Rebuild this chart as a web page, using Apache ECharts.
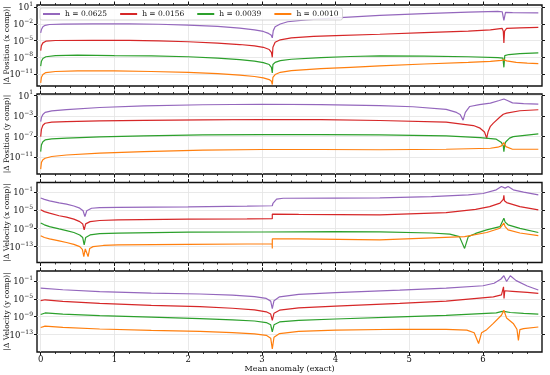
<!DOCTYPE html>
<html><head><meta charset="utf-8">
<script src="https://cdn.jsdelivr.net/npm/echarts@6/dist/echarts.min.js"></script>
<style>html,body{margin:0;padding:0;background:#fff}#c{width:550px;height:375px}</style>
</head><body><div id="c"></div>
<script>
// ---------- data (x = mean anomaly, y = log10 |error|) ----------
const seriesNames = ['h = 0.0625', 'h = 0.0156', 'h = 0.0039', 'h = 0.0010'];
const panelTitles = ['|\u0394 Position (x comp)|', '|\u0394 Position (y comp)|', '|\u0394 Velocity (x comp)|', '|\u0394 Velocity (y comp)|'];
const xTickValues = [0, 1, 2, 3, 4, 5, 6];
const yTickExponents = [[1, -2, -5, -8, -11], [1, -3, -7, -11], [-1, -5, -9, -13], [-1, -5, -9, -13]];
const yRangeExponents = [[-13.16, 1.41], [-14.25, 1.27], [-16.5, 1.12], [-16.9, 1.25]];

// Panel 1: |Δ Position (x comp)|
const posX_h0625 = [[0,-3.6],[0.01,-3.0],[0.03,-2.5],[0.06,-2.25],[0.12,-2.1],[0.3,-2.02],[0.7,-1.97],[1.2,-1.98],[1.6,-2.05],[2.0,-2.2],[2.4,-2.45],[2.7,-2.75],[2.9,-3.05],[3.02,-3.35],[3.09,-3.7],[3.125,-4.0],[3.1416,-4.5],[3.155,-3.2],[3.18,-2.5],[3.25,-2.0],[3.35,-1.6],[3.6,-1.25],[4.0,-0.9],[4.6,-0.45],[5.2,-0.15],[5.8,0.12],[6.2,0.25],[6.26,0.2],[6.283,-1.35],[6.305,0.1],[6.4,0.05],[6.75,0.0]];
const posX_h0156 = [[0,-6.8],[0.01,-5.9],[0.03,-5.4],[0.07,-5.1],[0.2,-4.98],[0.7,-4.95],[1.2,-4.97],[1.6,-5.05],[2.0,-5.2],[2.4,-5.45],[2.7,-5.7],[2.9,-5.95],[3.02,-6.2],[3.1,-6.6],[3.13,-7.1],[3.1416,-8.0],[3.15,-6.2],[3.18,-5.3],[3.25,-4.85],[3.4,-4.5],[3.7,-4.25],[4.0,-4.1],[4.6,-3.85],[5.2,-3.55],[5.8,-3.3],[6.1,-3.05],[6.26,-2.8],[6.275,-3.3],[6.283,-5.4],[6.292,-3.3],[6.32,-2.8],[6.5,-2.7],[6.75,-2.6]];
const posX_h0039 = [[0,-9.6],[0.01,-8.7],[0.03,-8.2],[0.07,-7.9],[0.2,-7.7],[0.5,-7.62],[1.0,-7.7],[1.5,-7.75],[2.0,-7.9],[2.4,-8.15],[2.7,-8.4],[2.9,-8.7],[3.02,-8.95],[3.1,-9.3],[3.13,-9.8],[3.1416,-10.8],[3.15,-9.3],[3.18,-8.9],[3.25,-8.6],[3.4,-8.35],[3.8,-8.05],[4.2,-7.85],[4.6,-7.75],[5.2,-7.8],[5.8,-7.9],[6.2,-8.05],[6.27,-8.15],[6.283,-9.8],[6.295,-7.7],[6.35,-7.5],[6.5,-7.35],[6.75,-7.2]];
const posX_h0010 = [[0,-12.6],[0.01,-11.6],[0.03,-11.1],[0.07,-10.75],[0.2,-10.55],[0.5,-10.45],[1.0,-10.45],[1.5,-10.55],[2.0,-10.7],[2.4,-10.95],[2.7,-11.2],[2.9,-11.45],[3.02,-11.7],[3.1,-12.0],[3.13,-12.3],[3.1416,-12.9],[3.15,-11.6],[3.18,-11.1],[3.25,-10.7],[3.4,-10.4],[3.8,-10.05],[4.2,-9.8],[4.6,-9.55],[5.2,-9.2],[5.8,-8.9],[6.1,-8.72],[6.25,-8.55],[6.283,-8.45],[6.32,-8.65],[6.45,-8.9],[6.6,-9.05],[6.75,-9.15]];

// Panel 2: |Δ Position (y comp)|
const posY_h0625 = [[0,-4.1],[0.01,-3.3],[0.03,-2.7],[0.06,-2.3],[0.15,-2.0],[0.35,-1.75],[0.8,-1.35],[1.4,-1.05],[2.2,-0.82],[3.0,-0.72],[3.8,-0.8],[4.6,-1.0],[5.05,-1.2],[5.5,-1.7],[5.64,-2.3],[5.69,-2.7],[5.73,-3.8],[5.76,-2.3],[5.82,-1.15],[5.95,-0.8],[6.1,-0.5],[6.22,0.0],[6.283,0.3],[6.33,0.0],[6.4,-0.45],[6.55,-0.6],[6.75,-0.68]];
const posY_h0156 = [[0,-7.0],[0.01,-5.6],[0.03,-4.8],[0.06,-4.4],[0.15,-4.2],[0.35,-4.07],[0.8,-3.95],[1.4,-3.85],[2.2,-3.74],[3.0,-3.68],[3.8,-3.72],[4.6,-3.87],[5.5,-4.19],[5.87,-4.85],[5.96,-5.36],[6.02,-6.1],[6.05,-7.3],[6.07,-6.0],[6.1,-5.0],[6.14,-4.38],[6.23,-3.2],[6.275,-2.65],[6.283,-2.9],[6.29,-2.55],[6.32,-2.43],[6.5,-1.98],[6.75,-1.79]];
const posY_h0039 = [[0,-9.9],[0.01,-8.6],[0.03,-8.0],[0.06,-7.64],[0.15,-7.45],[0.35,-7.3],[0.8,-7.05],[1.4,-6.85],[2.2,-6.66],[3.0,-6.6],[3.8,-6.6],[4.6,-6.66],[5.5,-6.86],[5.96,-7.18],[6.18,-7.5],[6.25,-8.16],[6.275,-8.8],[6.283,-9.9],[6.295,-8.5],[6.31,-8.0],[6.36,-7.3],[6.41,-7.0],[6.75,-6.47]];
const posY_h0010 = [[0,-13.3],[0.01,-12.0],[0.03,-11.5],[0.06,-11.2],[0.15,-10.85],[0.35,-10.56],[0.8,-10.2],[1.4,-9.9],[2.2,-9.6],[3.0,-9.5],[3.8,-9.5],[4.6,-9.55],[5.5,-9.45],[6.1,-9.25],[6.2,-9.05],[6.25,-8.8],[6.283,-8.16],[6.31,-8.94],[6.4,-9.45],[6.75,-9.45]];

// Panel 3: |Δ Velocity (x comp)|
const velX_h0625 = [[0,-2.3],[0.05,-2.6],[0.12,-2.92],[0.25,-3.35],[0.35,-3.65],[0.45,-4.05],[0.53,-4.53],[0.575,-5.1],[0.6,-6.4],[0.625,-5.1],[0.69,-4.55],[0.8,-4.4],[1.05,-4.35],[2.0,-4.25],[2.8,-4.1],[3.1416,-4.0],[3.15,-3.5],[3.165,-3.07],[3.2,-2.55],[3.29,-2.35],[4.0,-2.3],[4.6,-2.28],[5.3,-2.0],[5.8,-1.6],[6.0,-1.3],[6.18,-0.49],[6.25,0.24],[6.3,-0.12],[6.34,0.24],[6.41,-0.49],[6.55,-1.0],[6.75,-1.6]];
const velX_h0156 = [[0,-4.9],[0.05,-5.3],[0.12,-5.64],[0.25,-6.2],[0.35,-6.5],[0.45,-6.95],[0.53,-7.5],[0.57,-8.0],[0.59,-9.3],[0.61,-8.0],[0.67,-7.5],[0.8,-7.25],[1.05,-7.1],[2.0,-6.95],[2.8,-6.9],[3.1416,-6.85],[3.1417,-5.86],[3.5,-5.9],[4.6,-6.0],[5.5,-5.5],[5.9,-4.8],[6.09,-4.18],[6.23,-3.43],[6.275,-2.6],[6.283,-1.7],[6.29,-2.9],[6.32,-3.3],[6.5,-4.18],[6.75,-4.9]];
const velX_h0039 = [[0,-7.8],[0.05,-8.2],[0.12,-8.6],[0.25,-9.1],[0.35,-9.47],[0.45,-9.9],[0.53,-10.43],[0.57,-11.0],[0.59,-12.6],[0.61,-11.0],[0.67,-10.43],[0.8,-10.15],[1.05,-10.05],[2.0,-9.8],[3.0,-9.78],[4.0,-9.72],[4.6,-9.75],[5.3,-10.0],[5.55,-10.25],[5.68,-10.8],[5.75,-13.4],[5.8,-10.8],[5.9,-10.1],[6.05,-9.3],[6.23,-8.6],[6.283,-6.74],[6.3,-7.6],[6.34,-8.2],[6.5,-9.0],[6.75,-9.9]];
const velX_h0010 = [[0,-10.6],[0.05,-11.0],[0.12,-11.3],[0.25,-11.75],[0.35,-12.1],[0.45,-12.5],[0.53,-13.0],[0.565,-13.6],[0.585,-15.2],[0.605,-13.5],[0.625,-13.8],[0.643,-15.2],[0.665,-13.4],[0.71,-13.0],[0.85,-12.75],[1.05,-12.63],[2.0,-12.5],[2.8,-12.42],[3.14,-12.4],[3.1416,-13.4],[3.1417,-11.3],[3.5,-11.3],[4.6,-11.5],[5.4,-11.0],[5.75,-10.8],[6.05,-9.9],[6.23,-8.95],[6.283,-7.85],[6.3,-8.6],[6.34,-9.3],[6.5,-10.0],[6.75,-10.6]];

// Panel 4: |Δ Velocity (y comp)|
const velY_h0625 = [[0,-2.6],[0.02,-2.65],[0.3,-2.95],[0.8,-3.35],[1.5,-3.7],[2.16,-3.9],[2.6,-4.15],[2.9,-4.5],[3.06,-4.9],[3.12,-5.5],[3.1416,-7.2],[3.165,-5.4],[3.24,-4.54],[3.5,-4.0],[4.0,-3.6],[4.87,-3.03],[5.5,-2.6],[6.0,-2.06],[6.15,-1.5],[6.24,-0.6],[6.283,0.19],[6.32,-1.1],[6.37,0.19],[6.45,-0.9],[6.6,-2.1],[6.75,-3.0]];
const velY_h0156 = [[0,-5.4],[0.02,-5.15],[0.06,-5.2],[0.3,-5.55],[0.8,-6.0],[1.5,-6.45],[2.16,-6.75],[2.6,-7.1],[2.9,-7.45],[3.06,-7.9],[3.12,-8.4],[3.1416,-9.8],[3.165,-8.2],[3.24,-7.53],[3.5,-7.0],[4.0,-6.6],[4.87,-6.02],[5.5,-5.5],[6.14,-4.54],[6.25,-4.1],[6.278,-2.3],[6.285,-4.9],[6.295,-3.18],[6.4,-3.3],[6.6,-3.55],[6.75,-3.77]];
const velY_h0039 = [[0,-8.5],[0.02,-8.1],[0.06,-8.15],[0.3,-8.4],[0.8,-8.75],[1.5,-9.1],[2.16,-9.4],[2.6,-9.7],[2.9,-9.95],[3.06,-10.3],[3.12,-10.8],[3.1416,-12.4],[3.165,-10.8],[3.24,-10.17],[3.5,-9.8],[4.0,-9.5],[4.87,-9.04],[5.5,-8.7],[6.18,-8.14],[6.26,-7.8],[6.283,-7.37],[6.3,-7.85],[6.37,-8.05],[6.55,-8.25],[6.75,-8.43]];
const velY_h0010 = [[0,-11.4],[0.02,-11.0],[0.06,-11.1],[0.3,-11.4],[0.8,-11.75],[1.5,-12.05],[2.16,-12.26],[2.6,-12.55],[2.9,-12.85],[3.06,-13.16],[3.12,-13.8],[3.1416,-16.2],[3.165,-13.6],[3.24,-12.78],[3.5,-12.3],[4.0,-12.0],[4.87,-11.8],[5.5,-11.85],[5.78,-12.0],[5.88,-12.6],[5.94,-15.0],[5.98,-12.6],[6.05,-11.9],[6.14,-10.5],[6.25,-8.66],[6.283,-7.53],[6.32,-9.3],[6.41,-10.5],[6.46,-11.8],[6.48,-14.3],[6.5,-11.9],[6.55,-11.65],[6.75,-11.3]];

const panels = [
  [posX_h0625, posX_h0156, posX_h0039, posX_h0010],
  [posY_h0625, posY_h0156, posY_h0039, posY_h0010],
  [velX_h0625, velX_h0156, velX_h0039, velX_h0010],
  [velY_h0625, velY_h0156, velY_h0039, velY_h0010]
];

// ---------- styling ----------
const colors = ['#9467bd', '#d62728', '#2ca02c', '#ff7f0e'];
const FONT = 'DejaVu Serif';
const gridBoxes = [
  {top: 5, height: 81},
  {top: 94, height: 80},
  {top: 182.5, height: 80},
  {top: 271, height: 81}
];
function powLabel(v) {
  const e = Math.round(Math.log10(v));
  return '{b|10}{e|' + String(e).replace('-', '\u2212') + '}';
}

const grids = [], xAxes = [], yAxes = [], series = [];
gridBoxes.forEach((g, i) => {
  grids.push({left: 37, right: 8, top: g.top, height: g.height, show: true,
    outerBoundsMode: 'none', containLabel: false,
    borderColor: '#111', borderWidth: 1.4, backgroundColor: 'transparent'});
  const xCommon = {
    type: 'value', gridIndex: i, min: -0.05, max: 6.8,
    axisLine: {show: false, onZero: false},
    axisTick: {show: true, inside: false, length: 3.5, customValues: xTickValues, lineStyle: {color: '#111', width: 1}},
    minorTick: {show: true, splitNumber: 5, length: 2, lineStyle: {color: '#111', width: 0.8}},
    minorSplitLine: {show: false}
  };
  xAxes.push(Object.assign({}, xCommon, {
    position: 'bottom',
    axisLabel: {show: i === 3, customValues: xTickValues, fontFamily: FONT, fontSize: 8.5, color: '#111', margin: 3},
    splitLine: {show: true, lineStyle: {color: '#e3e3e3', width: 0.8}},
    name: i === 3 ? 'Mean anomaly (exact)' : '', nameLocation: 'middle', nameGap: 13,
    nameTextStyle: {fontFamily: FONT, fontSize: 8, color: '#111'}
  }));
  xAxes.push(Object.assign({}, xCommon, {
    position: 'top', axisLabel: {show: false}, splitLine: {show: false}
  }));
  const tickVals = yTickExponents[i].map(e => Math.pow(10, e));
  const yCommon = {
    type: 'log', logBase: 10, gridIndex: i,
    min: Math.pow(10, yRangeExponents[i][0]), max: Math.pow(10, yRangeExponents[i][1]),
    axisLine: {show: false, onZero: false},
    axisTick: {show: true, inside: false, length: 3, customValues: tickVals, lineStyle: {color: '#111', width: 1}},
    minorTick: {show: false}
  };
  yAxes.push(Object.assign({}, yCommon, {
    position: 'left',
    axisLabel: {show: true, customValues: tickVals, formatter: powLabel, margin: 4, color: '#111',
      rich: {
        b: {fontFamily: FONT, fontSize: 8.5, color: '#111', lineHeight: 11, verticalAlign: 'bottom'},
        e: {fontFamily: FONT, fontSize: 6, color: '#111', lineHeight: 11, verticalAlign: 'top', padding: [0, 0, 4, 0]}
      }},
    splitLine: {show: true, lineStyle: {color: '#e3e3e3', width: 0.8}},
    name: panelTitles[i], nameLocation: 'middle', nameRotate: 90, nameGap: 26, nameMoveOverlap: false,
    nameTextStyle: {fontFamily: FONT, fontSize: 7.5, color: '#111'}
  }));
  yAxes.push(Object.assign({}, yCommon, {
    position: 'right', axisLabel: {show: false}, splitLine: {show: false}
  }));
  panels[i].forEach((pts, k) => {
    series.push({
      type: 'line', name: seriesNames[k], xAxisIndex: 2 * i, yAxisIndex: 2 * i,
      data: pts.map(p => [p[0], Math.pow(10, p[1])]),
      showSymbol: false, symbol: 'none', smooth: false,
      lineStyle: {color: colors[k], width: 1.2}, itemStyle: {color: colors[k]},
      emphasis: {disabled: true}, animation: false
    });
  });
});

const chart = echarts.init(document.getElementById('c'), null, {renderer: 'canvas'});
chart.setOption({
  animation: false,
  backgroundColor: '#fff',
  grid: grids, xAxis: xAxes, yAxis: yAxes, series: series,
  legend: {
    data: seriesNames, left: 40, top: 8, icon: 'rect', itemWidth: 17, itemHeight: 2, itemGap: 13,
    backgroundColor: 'rgba(255,255,255,0.85)', borderColor: '#cccccc', borderWidth: 0.8, borderRadius: 2,
    padding: [2, 4, 2, 3],
    textStyle: {fontFamily: FONT, fontSize: 7.5, color: '#111'}
  }
});
</script></body></html>
